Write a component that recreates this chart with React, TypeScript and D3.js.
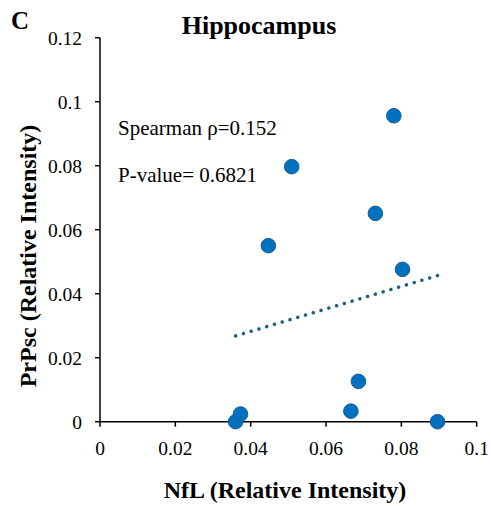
import React from "react";
import * as d3 from "d3";

const nflValues = [0.036, 0.0373, 0.0666, 0.0686, 0.0896, 0.078, 0.0509, 0.0731, 0.0447, 0.0803];
const prpscValues = [0, 0.0024, 0.0033, 0.0126, 0, 0.0956, 0.0797, 0.0651, 0.055, 0.0476];
const xTicks = [0, 0.02, 0.04, 0.06, 0.08, 0.1];
const yTicks = [0, 0.02, 0.04, 0.06, 0.08, 0.1, 0.12];
const xTickLabels = ["0", "0.02", "0.04", "0.06", "0.08", "0.1"];
const yTickLabels = ["0", "0.02", "0.04", "0.06", "0.08", "0.1", "0.12"];

const W = 491, H = 506;
const font = "Liberation Serif, Times New Roman, Times, DejaVu Serif, serif";

export default function App() {
  const x = d3.scaleLinear().domain([0, 0.1]).range([100, 476.7]);
  const y = d3.scaleLinear().domain([0, 0.12]).range([421.7, 37.7]);

  const pts = nflValues.map((v, i) => [v, prpscValues[i]]);
  const mx = d3.mean(nflValues)!, my = d3.mean(prpscValues)!;
  let sxy = 0, sxx = 0;
  pts.forEach(([a, b]) => { sxy += (a - mx) * (b - my); sxx += (a - mx) ** 2; });
  const slope = sxy / sxx;
  const ext = d3.extent(nflValues) as [number, number];
  const trend = ext.map((v) => [v, my + slope * (v - mx)] as [number, number]);
  const line = d3.line<[number, number]>().x((d) => x(d[0])).y((d) => y(d[1]));

  return (
    <svg width={W} height={H} style={{ position: "absolute", left: 0, top: 0, background: "#fff", fontFamily: font }}>
      <rect width={W} height={H} fill="#fff" />
      <text x={11} y={29} style={{ fontFamily: font }} fontWeight="bold" fontSize={25}>C</text>
      <text x={259} y={34} textAnchor="middle" style={{ fontFamily: font }} fontWeight="bold" fontSize={26}>Hippocampus</text>

      <line x1={x(0)} x2={x(0)} y1={y(0.12)} y2={y(0)} stroke="#000" strokeWidth={1.5} />
      <line x1={x(0)} x2={x(0.1)} y1={y(0)} y2={y(0)} stroke="#000" strokeWidth={1.5} />
      {yTicks.map((t, i) => (
        <g key={"y" + i}>
          <line x1={x(0) - 5} x2={x(0)} y1={y(t)} y2={y(t)} stroke="#000" strokeWidth={1.5} />
          <text x={82} y={y(t)} dy="0.36em" textAnchor="end" style={{ fontFamily: font }} fontSize={19.5}>{yTickLabels[i]}</text>
        </g>
      ))}
      {xTicks.map((t, i) => (
        <g key={"x" + i}>
          <line x1={x(t)} x2={x(t)} y1={y(0)} y2={y(0) + 5} stroke="#000" strokeWidth={1.5} />
          <text x={x(t)} y={455} textAnchor="middle" style={{ fontFamily: font }} fontSize={19.5}>{xTickLabels[i]}</text>
        </g>
      ))}

      <text x={285} y={498} textAnchor="middle" style={{ fontFamily: font }} fontWeight="bold" fontSize={24}>NfL (Relative Intensity)</text>
      <text transform="translate(36,256) rotate(-90)" textAnchor="middle" style={{ fontFamily: font }} fontWeight="bold" fontSize={24}>PrPsc (Relative Intensity)</text>

      <path d={line(trend) ?? ""} fill="none" stroke="#1F5F86" strokeWidth={3.5} strokeDasharray="0.1 8" strokeLinecap="round" />

      {pts.map(([a, b], i) => (
        <circle key={i} cx={x(a)} cy={y(b)} r={7.3} fill="#0070C0" stroke="#1D5E91" strokeWidth={1} />
      ))}

      <text x={118} y={135} style={{ fontFamily: font }} fontSize={21}>Spearman ρ=0.152</text>
      <text x={118} y={182} style={{ fontFamily: font }} fontSize={21}>P-value= 0.6821</text>
    </svg>
  );
}
